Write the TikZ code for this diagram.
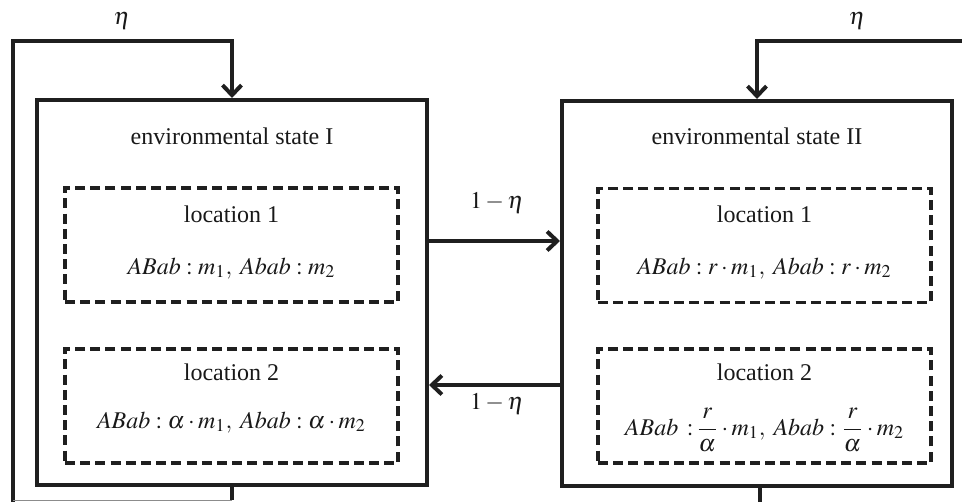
\documentclass[tikz,border=0pt]{standalone}
\usepackage{mathptmx}
\usepackage[no-math]{fontspec}
\setmainfont{Liberation Serif}
\usetikzlibrary{arrows.meta}
\begin{document}
\begin{tikzpicture}[x=0.5pt,y=-0.5pt,
  box/.style={draw,line width=2pt,minimum width=195pt,minimum height=192.5pt,inner sep=0pt},
  dbox/.style={draw,line width=1.6pt,dash pattern=on 5pt off 2.6pt,minimum width=166.5pt,minimum height=57pt,inner sep=0pt},
  lbl/.style={font=\fontsize{12}{14}\selectfont,inner sep=0pt,anchor=base,text=black!90},
  elbl/.style={font=\fontsize{12}{14}\selectfont,inner sep=0pt,text=black!90},
  line/.style={line width=2pt,draw=black!88},
  arr/.style={line width=2pt,draw=black!88,-{Straight Barb[length=5pt,width=9.5pt]}}]
\useasboundingbox (0,0) rectangle (962,502);
% boxes
\node[box,draw=black!88] (s1) at (232,292.5) {};
\node[box,draw=black!88] (s2) at (757,293.5) {};
\node[dbox,draw=black!88] (l11) at (231.5,245) {};
\node[dbox,draw=black!88] (l12) at (231.5,406) {};
\node[dbox,draw=black!88] (l21) at (764.5,245.5) {};
\node[dbox,draw=black!88] (l22) at (764.5,406) {};
% texts
\node[lbl] (t1) at (232,145) {environmental state I};
\node[lbl] (t2) at (757,145) {environmental state II};
\node[lbl] (a11) at (231.5,222) {location 1};
\node[lbl] (b11) at (231.5,274) {$ABab: m_1,\; Abab: m_2$};
\node[lbl] (a12) at (231.5,380) {location 2};
\node[lbl] (b12) at (231.5,428) {$ABab: \alpha\cdot m_1,\; Abab: \alpha\cdot m_2$};
\node[lbl] (a21) at (764.5,222) {location 1};
\node[lbl] (b21) at (764.5,274) {$ABab: r\cdot m_1,\; Abab: r\cdot m_2$};
\node[lbl] (a22) at (764.5,380) {location 2};
\node[lbl] (b22) at (764.5,435) {$ABab\ \,{:}\,\displaystyle\frac{r}{\alpha}\cdot m_1,\; Abab:\frac{r}{\alpha}\cdot m_2$};
\node[elbl] (e1) at (122,21) {$\eta$};
\node[elbl] (e2) at (857,21) {$\eta$};
\node[elbl] (f1) at (497,203) {$1-\eta$};
\node[elbl] (f2) at (497,404) {$1-\eta$};
% coordinates
\coordinate (tl) at (13,41);
\coordinate (bl) at (13,502);
\coordinate (tr) at (962,41);
\coordinate (gb) at (13,500);
\coordinate (r1) at (0,241);
\coordinate (r2) at (0,385);
% loops
\draw[arr] (bl) -- (tl) -- (s1.north |- tl) -- (s1.north);
\draw[line] (s1.south) -- (s1.south |- gb);
\draw[black!45,line width=0.5pt] (gb) -- (s1.south |- gb);
\draw[arr] (tr) -- (s2.north |- tr) -- (s2.north);
\draw[line] ([xshift=1.5pt]s2.south) -- ([xshift=1.5pt]s2.south |- bl);
% transitions
\draw[arr] (s1.east |- r1) -- (s2.west |- r1);
\draw[arr] (s2.west |- r2) -- (s1.east |- r2);
\end{tikzpicture}
\end{document}
